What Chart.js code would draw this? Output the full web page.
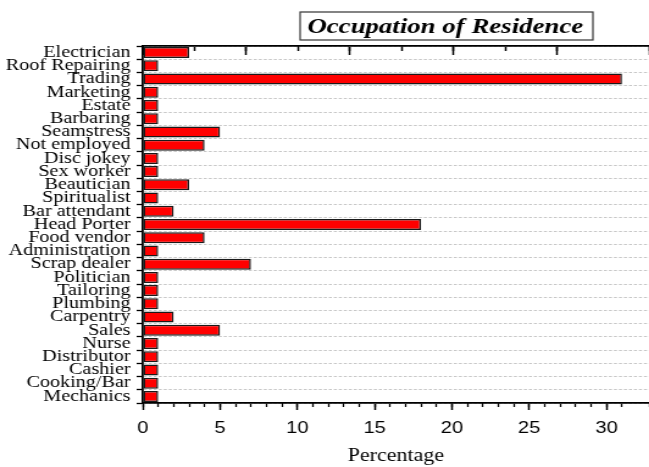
<!DOCTYPE html>
<html>
<head>
<meta charset="utf-8">
<script src="https://cdn.jsdelivr.net/npm/chart.js@4/dist/chart.umd.min.js"></script>
<style>
  html, body { margin: 0; padding: 0; background: #fff; overflow: hidden; }
  /* the source image is stretched sideways, so the chart is drawn narrow and widened */
  #wrap { width: 532px; height: 467px; transform: scaleX(1.22); transform-origin: 0 0; }
</style>
</head>
<body>
<div id="wrap"><canvas id="occChart" width="532" height="467"></canvas></div>
<script>
var categories = ['Electrician', 'Roof Repairing', 'Trading', 'Marketing', 'Estate', 'Barbaring',
    'Seamstress', 'Not employed', 'Disc jokey', 'Sex worker', 'Beautician', 'Spiritualist',
    'Bar attendant', 'Head Porter', 'Food vendor', 'Administration', 'Scrap dealer', 'Politician',
    'Tailoring', 'Plumbing', 'Carpentry', 'Sales', 'Nurse', 'Distributor', 'Cashier',
    'Cooking/Bar', 'Mechanics'];
var percentages = [3, 1, 31, 1, 1, 1, 5, 4, 1, 1, 3, 1, 2, 18, 4, 1, 7, 1, 1, 1, 2, 5, 1, 1, 1, 1, 1];
var xTickLabels = [0, 5, 10, 15, 20, 25, 30];
var xMax = 32.75;
var chartTitle = 'Occupation of Residence';
var axisTitle = 'Percentage';

// boxed title above the plot
var boxTitle = {
    id: 'boxTitle',
    afterDraw: function(chart) {
        var ctx = chart.ctx;
        var area = chart.chartArea;
        var right = area.right - 46, left = right - 240, top = 12, h = 28;
        ctx.save();
        ctx.strokeStyle = '#333';
        ctx.lineWidth = 1.2;
        ctx.strokeRect(left, top, right - left, h);
        ctx.fillStyle = '#000';
        ctx.font = 'italic bold 22px "Liberation Serif"';
        ctx.textAlign = 'center';
        ctx.textBaseline = 'middle';
        ctx.fillText(chartTitle, (left + right) / 2 - 1, top + h / 2 + 1);
        ctx.restore();
    }
};

var ctx = document.getElementById('occChart').getContext('2d');
var occChart = new Chart(ctx, {
    type: 'bar',
    data: {
        labels: categories,
        datasets: [{
            data: percentages,
            backgroundColor: '#ff0000',
            borderColor: '#1a1a1a',
            borderWidth: 1.5,
            borderSkipped: false,
            barPercentage: 0.83,
            categoryPercentage: 1
        }]
    },
    options: {
        indexAxis: 'y',
        responsive: false,
        animation: false,
        layout: { padding: { top: 46, left: 0, right: 0, bottom: 0 } },
        plugins: {
            legend: { display: false },
            tooltip: { enabled: false },
            title: { display: false }
        },
        scales: {
            x: {
                position: 'bottom',
                weight: 1,
                min: 0,
                max: xMax,
                afterBuildTicks: function(scale) {
                    scale.ticks = xTickLabels.map(function(v) { return { value: v }; });
                },
                ticks: {
                    color: '#000',
                    padding: 9,
                    maxRotation: 0,
                    font: { family: '"Liberation Sans"', size: 16.5 }
                },
                grid: { drawOnChartArea: false, tickLength: 7, tickColor: '#000', tickWidth: 1.5 },
                border: { color: '#000', width: 1.8 },
                title: {
                    display: true,
                    text: axisTitle,
                    color: '#000',
                    font: { family: '"Liberation Serif"', size: 18 },
                    padding: { top: 0, bottom: 0 }
                },
                afterFit: function(scale) { scale.height = 64; }
            },
            xMinor: {
                position: 'bottom',
                weight: 0,
                min: 0,
                max: xMax,
                ticks: { display: false, stepSize: 1 },
                grid: { drawOnChartArea: false, tickLength: 4, tickColor: '#000', tickWidth: 1.3 },
                border: { display: false },
                afterFit: function(scale) { scale.height = 0; }
            },
            xTop: {
                position: 'top',
                min: 0,
                max: 9.78,
                ticks: { display: false, stepSize: 1 },
                grid: { drawOnChartArea: false, tickLength: -5, tickColor: '#000', tickWidth: 1.5 },
                border: { color: '#000', width: 1.8 },
                afterFit: function(scale) { scale.height = 0; }
            },
            xTopLong: {
                position: 'top',
                min: 0,
                max: 9.78,
                ticks: { display: false, stepSize: 2 },
                grid: { drawOnChartArea: false, tickLength: -9, tickColor: '#000', tickWidth: 1.5 },
                border: { display: false },
                afterFit: function(scale) { scale.height = 0; }
            },
            y: {
                ticks: {
                    color: '#000',
                    padding: 5,
                    autoSkip: false,
                    font: { family: '"Liberation Serif"', size: 16.5, lineHeight: 1 }
                },
                grid: {
                    color: '#c8c8c8',
                    lineWidth: 1,
                    tickLength: 5,
                    tickColor: '#000',
                    tickWidth: 1.3
                },
                border: { color: '#000', width: 1.8, dash: [2.5, 1.6] },
                afterFit: function(scale) { scale.width = 117; }
            }
        }
    },
    plugins: [boxTitle]
});
</script>
</body>
</html>
